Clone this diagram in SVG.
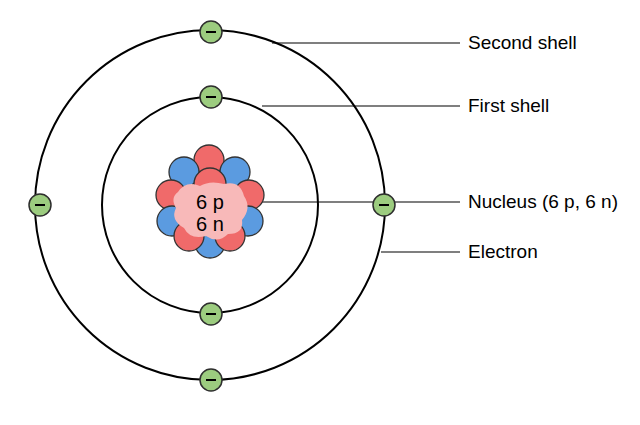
<svg xmlns="http://www.w3.org/2000/svg" width="640" height="425" viewBox="0 0 640 425">
<style>
.sh{fill:none;stroke:#000;stroke-width:2}
.e circle{fill:#9ccc7f;stroke:#2e2e2e;stroke-width:1.5}
.e line{stroke:#000;stroke-width:2}
.p{fill:#f06a6a;stroke:#333;stroke-width:1.3}
.n{fill:#5b9be0;stroke:#333;stroke-width:1.3}
.l{stroke:#000;stroke-width:1.2}
text{font-family:"Liberation Sans",Arial,sans-serif;font-size:19px;fill:#000}
.nt{font-size:20px}
</style>
<rect width="640" height="425" fill="#fff"/>
<g id="shells">
<circle class="sh" cx="210" cy="205" r="175"/>
<circle class="sh" cx="210" cy="205" r="108"/>
</g>
<g id="connectors">
<line class="l" x1="272" y1="43" x2="460" y2="43"/>
<line class="l" x1="262" y1="106" x2="460" y2="106"/>
<line class="l" x1="258" y1="202" x2="460" y2="202"/>
<line class="l" x1="381" y1="252" x2="460" y2="252"/>
</g>
<g id="nucleus">
<circle class="p" cx="209" cy="160" r="15"/>
<circle class="n" cx="184" cy="172" r="15"/>
<circle class="n" cx="235" cy="172" r="15"/>
<circle class="p" cx="171" cy="195" r="15"/>
<circle class="p" cx="249" cy="195" r="15"/>
<circle class="n" cx="172" cy="221" r="15"/>
<circle class="n" cx="248" cy="221" r="15"/>
<circle class="n" cx="210" cy="243" r="15"/>
<circle class="p" cx="189" cy="236" r="15"/>
<circle class="p" cx="230" cy="236" r="15"/>
<circle class="p" cx="210" cy="184" r="16"/>
<path d="M178 192 Q186 180 200 186 Q210 180 224 184 Q240 180 244 196 Q252 208 242 220 Q244 234 228 234 Q218 244 206 236 Q190 240 184 228 Q170 220 176 208 Q170 198 178 192 Z" fill="#f8b9b9"/>
<text class="nt" x="210" y="209" text-anchor="middle">6 p</text>
<text class="nt" x="210" y="231" text-anchor="middle">6 n</text>
</g>
<g id="electrons" class="e">
<g id="e1"><circle cx="211" cy="32" r="11"/><line x1="206" y1="32" x2="216" y2="32"/></g>
<g id="e2"><circle cx="211" cy="97" r="11"/><line x1="206" y1="97" x2="216" y2="97"/></g>
<g id="e3"><circle cx="40" cy="205" r="11"/><line x1="35" y1="205" x2="45" y2="205"/></g>
<g id="e4"><circle cx="384" cy="205" r="11"/><line x1="379" y1="205" x2="389" y2="205"/></g>
<g id="e5"><circle cx="211" cy="314" r="11"/><line x1="206" y1="314" x2="216" y2="314"/></g>
<g id="e6"><circle cx="211" cy="380" r="11"/><line x1="206" y1="380" x2="216" y2="380"/></g>
</g>
<g id="labels">
<text x="468" y="49">Second shell</text>
<text x="468" y="112">First shell</text>
<text x="468" y="208">Nucleus (6 p, 6 n)</text>
<text x="468" y="258">Electron</text>
</g>
</svg>
